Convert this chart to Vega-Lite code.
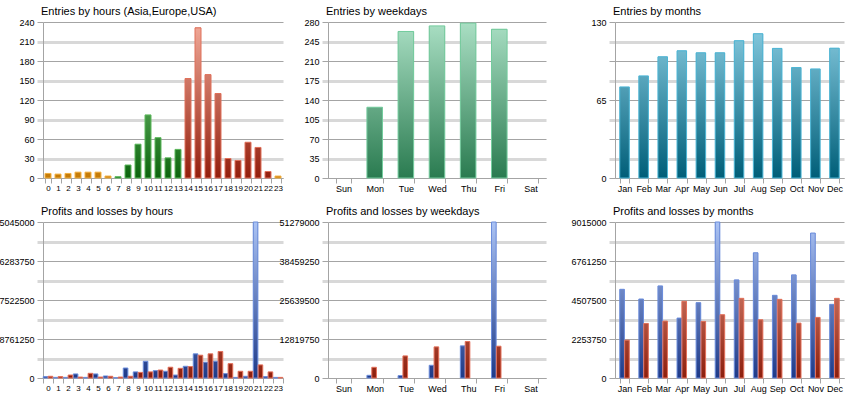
{
  "$schema": "https://vega.github.io/schema/vega-lite/v6.json",
  "autosize": {"type": "none"},
  "padding": {"left": 43, "top": 22, "right": 817, "bottom": 378},
  "background": "white",
  "bounds": "flush",
  "columns": 3,
  "spacing": {"row": 44, "column": 45},
  "resolve": {"scale": {"fill": "independent", "fillOpacity": "independent"}},
  "concat": [
    {
      "width": 240, "height": 156,
      "title": "Entries by hours (Asia,Europe,USA)",
      "data": {"values": [
        {"hour": 0, "entries": 7, "region": "Asia"},
        {"hour": 1, "entries": 6, "region": "Asia"},
        {"hour": 2, "entries": 7, "region": "Asia"},
        {"hour": 3, "entries": 9, "region": "Asia"},
        {"hour": 4, "entries": 9, "region": "Asia"},
        {"hour": 5, "entries": 9, "region": "Asia"},
        {"hour": 6, "entries": 3, "region": "Asia"},
        {"hour": 7, "entries": 2, "region": "Europe"},
        {"hour": 8, "entries": 20, "region": "Europe"},
        {"hour": 9, "entries": 52, "region": "Europe"},
        {"hour": 10, "entries": 97, "region": "Europe"},
        {"hour": 11, "entries": 62, "region": "Europe"},
        {"hour": 12, "entries": 31, "region": "Europe"},
        {"hour": 13, "entries": 44, "region": "Europe"},
        {"hour": 14, "entries": 153, "region": "USA"},
        {"hour": 15, "entries": 231, "region": "USA"},
        {"hour": 16, "entries": 159, "region": "USA"},
        {"hour": 17, "entries": 130, "region": "USA"},
        {"hour": 18, "entries": 30, "region": "USA"},
        {"hour": 19, "entries": 27, "region": "USA"},
        {"hour": 20, "entries": 55, "region": "USA"},
        {"hour": 21, "entries": 47, "region": "USA"},
        {"hour": 22, "entries": 10, "region": "USA"},
        {"hour": 23, "entries": 3, "region": "Asia"}
      ]},
      "encoding": {
        "x": {"field": "hour", "type": "ordinal", "scale": {"paddingInner": 0.4, "paddingOuter": 0.2}, "axis": {"title": null, "labelFontSize": 8}},
        "y": {"field": "entries", "type": "quantitative", "scale": {"domain": [0, 240], "nice": false},
          "axis": {"title": null, "grid": true, "values": [0, 30, 60, 90, 120, 150, 180, 210, 240],
            "gridColor": {"condition": {"test": "datum.value % 60 === 0", "value": "#a4a4a4"}, "value": "#d8d8d8"},
            "gridWidth": {"condition": {"test": "datum.value % 60 === 0", "value": 1}, "value": 3},
            "tickColor": {"condition": {"test": "datum.value % 60 === 0", "value": "#a4a4a4"}, "value": "#d8d8d8"},
            "tickWidth": {"condition": {"test": "datum.value % 60 === 0", "value": 1}, "value": 3}}}
      },
      "layer": [
        {"mark": {"type": "bar"}, "encoding": {"fill": {"field": "region", "type": "nominal", "scale": {"domain": ["Asia", "Europe", "USA"], "range": ["#c47a06", "#0b640d", "#931e0c"]}, "legend": null}}},
        {"transform": [{"filter": "datum.region === 'Asia'"}],
         "mark": {"type": "bar", "stroke": "#f3b040", "strokeWidth": 1, "fill": {"gradient": "linear", "x1": 0, "y1": 1, "x2": 0, "y2": 0, "stops": [{"offset": 0, "color": "rgba(255,211,138,0)"}, {"offset": 1, "color": "rgba(255,211,138,1)"}]}},
         "encoding": {"fillOpacity": {"field": "entries", "type": "quantitative", "scale": {"domain": [0, 240], "range": [0, 1]}, "legend": null}}},
        {"transform": [{"filter": "datum.region === 'Europe'"}],
         "mark": {"type": "bar", "stroke": "#5cb85c", "strokeWidth": 1, "fill": {"gradient": "linear", "x1": 0, "y1": 1, "x2": 0, "y2": 0, "stops": [{"offset": 0, "color": "rgba(158,229,154,0)"}, {"offset": 1, "color": "rgba(158,229,154,1)"}]}},
         "encoding": {"fillOpacity": {"field": "entries", "type": "quantitative", "scale": {"domain": [0, 240], "range": [0, 1]}, "legend": null}}},
        {"transform": [{"filter": "datum.region === 'USA'"}],
         "mark": {"type": "bar", "stroke": "#e0705a", "strokeWidth": 1, "fill": {"gradient": "linear", "x1": 0, "y1": 1, "x2": 0, "y2": 0, "stops": [{"offset": 0, "color": "rgba(242,171,154,0)"}, {"offset": 1, "color": "rgba(242,171,154,1)"}]}},
         "encoding": {"fillOpacity": {"field": "entries", "type": "quantitative", "scale": {"domain": [0, 240], "range": [0, 1]}, "legend": null}}}
      ]
    },
    {
      "width": 242, "height": 156,
      "title": "Entries by weekdays",
      "data": {"values": [
        {"day": "Mon", "entries": 127},
        {"day": "Tue", "entries": 263},
        {"day": "Wed", "entries": 273},
        {"day": "Thu", "entries": 278},
        {"day": "Fri", "entries": 267}
      ]},
      "encoding": {
        "x": {"field": "day", "type": "ordinal", "scale": {"domain": ["Sun", "Mon", "Tue", "Wed", "Thu", "Fri", "Sat"], "range": [0, 218], "paddingInner": 0.5, "paddingOuter": 0.25}, "axis": {"title": null}},
        "y": {"field": "entries", "type": "quantitative", "scale": {"domain": [0, 280], "nice": false},
          "axis": {"title": null, "grid": true, "values": [0, 35, 70, 105, 140, 175, 210, 245, 280],
            "gridColor": {"condition": {"test": "datum.value % 70 === 0", "value": "#a4a4a4"}, "value": "#d8d8d8"},
            "gridWidth": {"condition": {"test": "datum.value % 70 === 0", "value": 1}, "value": 3},
            "tickColor": {"condition": {"test": "datum.value % 70 === 0", "value": "#a4a4a4"}, "value": "#d8d8d8"},
            "tickWidth": {"condition": {"test": "datum.value % 70 === 0", "value": 1}, "value": 3}}}
      },
      "layer": [
        {"mark": {"type": "bar", "fill": "#2a7b50"}},
        {"mark": {"type": "bar", "stroke": "#74cc9e", "strokeWidth": 1, "fill": {"gradient": "linear", "x1": 0, "y1": 1, "x2": 0, "y2": 0, "stops": [{"offset": 0, "color": "rgba(170,223,196,0)"}, {"offset": 1, "color": "rgba(170,223,196,1)"}]}},
         "encoding": {"fillOpacity": {"field": "entries", "type": "quantitative", "scale": {"domain": [0, 280], "range": [0, 1]}, "legend": null}}}
      ]
    },
    {
      "width": 229, "height": 156,
      "title": "Entries by months",
      "data": {"values": [
        {"month": "Jan", "entries": 75.9},
        {"month": "Feb", "entries": 85.1},
        {"month": "Mar", "entries": 101},
        {"month": "Apr", "entries": 106},
        {"month": "May", "entries": 104.3},
        {"month": "Jun", "entries": 104.3},
        {"month": "Jul", "entries": 114.4},
        {"month": "Aug", "entries": 120.2},
        {"month": "Sep", "entries": 108},
        {"month": "Oct", "entries": 92},
        {"month": "Nov", "entries": 90.9},
        {"month": "Dec", "entries": 108.2}
      ]},
      "encoding": {
        "x": {"field": "month", "type": "ordinal", "scale": {"domain": ["Jan", "Feb", "Mar", "Apr", "May", "Jun", "Jul", "Aug", "Sep", "Oct", "Nov", "Dec"], "paddingInner": 0.5, "paddingOuter": 0.25}, "axis": {"title": null}},
        "y": {"field": "entries", "type": "quantitative", "scale": {"domain": [0, 130], "nice": false},
          "axis": {"title": null, "grid": true, "values": [0, 16.25, 32.5, 48.75, 65, 81.25, 97.5, 113.75, 130],
            "labelExpr": "datum.value % 65 === 0 ? datum.label : ''",
            "gridColor": {"condition": {"test": "datum.value % 32.5 === 0", "value": "#a4a4a4"}, "value": "#d8d8d8"},
            "gridWidth": {"condition": {"test": "datum.value % 32.5 === 0", "value": 1}, "value": 3},
            "tickColor": {"condition": {"test": "datum.value % 32.5 === 0", "value": "#a4a4a4"}, "value": "#d8d8d8"},
            "tickWidth": {"condition": {"test": "datum.value % 32.5 === 0", "value": 1}, "value": 3}}}
      },
      "layer": [
        {"mark": {"type": "bar", "fill": "#005e78"}},
        {"mark": {"type": "bar", "stroke": "#4cb6d6", "strokeWidth": 1, "fill": {"gradient": "linear", "x1": 0, "y1": 1, "x2": 0, "y2": 0, "stops": [{"offset": 0, "color": "rgba(138,205,226,0)"}, {"offset": 1, "color": "rgba(138,205,226,1)"}]}},
         "encoding": {"fillOpacity": {"field": "entries", "type": "quantitative", "scale": {"domain": [0, 130], "range": [0, 1]}, "legend": null}}}
      ]
    },
    {
      "width": 240, "height": 156,
      "title": "Profits and losses by hours",
      "data": {"values": [
        {"hour": 0, "series": "Profit", "amount": 315000}, {"hour": 0, "series": "Loss", "amount": 385000},
        {"hour": 1, "series": "Profit", "amount": 140000}, {"hour": 1, "series": "Loss", "amount": 315000},
        {"hour": 2, "series": "Profit", "amount": 140000}, {"hour": 2, "series": "Loss", "amount": 665000},
        {"hour": 3, "series": "Profit", "amount": 910000}, {"hour": 3, "series": "Loss", "amount": 210000},
        {"hour": 4, "series": "Profit", "amount": 140000}, {"hour": 4, "series": "Loss", "amount": 1050000},
        {"hour": 5, "series": "Profit", "amount": 910000}, {"hour": 5, "series": "Loss", "amount": 210000},
        {"hour": 6, "series": "Profit", "amount": 455000}, {"hour": 6, "series": "Loss", "amount": 385000},
        {"hour": 7, "series": "Profit", "amount": 70000}, {"hour": 7, "series": "Loss", "amount": 210000},
        {"hour": 8, "series": "Profit", "amount": 2240000}, {"hour": 8, "series": "Loss", "amount": 385000},
        {"hour": 9, "series": "Profit", "amount": 1370000}, {"hour": 9, "series": "Loss", "amount": 1260000},
        {"hour": 10, "series": "Profit", "amount": 3750000}, {"hour": 10, "series": "Loss", "amount": 1370000},
        {"hour": 11, "series": "Profit", "amount": 1650000}, {"hour": 11, "series": "Loss", "amount": 1790000},
        {"hour": 12, "series": "Profit", "amount": 1510000}, {"hour": 12, "series": "Loss", "amount": 2420000},
        {"hour": 13, "series": "Profit", "amount": 665000}, {"hour": 13, "series": "Loss", "amount": 2170000},
        {"hour": 14, "series": "Profit", "amount": 2630000}, {"hour": 14, "series": "Loss", "amount": 2560000},
        {"hour": 15, "series": "Profit", "amount": 5430000}, {"hour": 15, "series": "Loss", "amount": 5120000},
        {"hour": 16, "series": "Profit", "amount": 3540000}, {"hour": 16, "series": "Loss", "amount": 5430000},
        {"hour": 17, "series": "Profit", "amount": 3750000}, {"hour": 17, "series": "Loss", "amount": 5960000},
        {"hour": 18, "series": "Profit", "amount": 980000}, {"hour": 18, "series": "Loss", "amount": 3220000},
        {"hour": 19, "series": "Profit", "amount": 140000}, {"hour": 19, "series": "Loss", "amount": 1510000},
        {"hour": 20, "series": "Profit", "amount": 385000}, {"hour": 20, "series": "Loss", "amount": 1510000},
        {"hour": 21, "series": "Profit", "amount": 35045000}, {"hour": 21, "series": "Loss", "amount": 2940000},
        {"hour": 22, "series": "Profit", "amount": 315000}, {"hour": 22, "series": "Loss", "amount": 1370000},
        {"hour": 23, "series": "Profit", "amount": 140000}, {"hour": 23, "series": "Loss", "amount": 140000}
      ]},
      "encoding": {
        "x": {"field": "hour", "type": "ordinal", "scale": {"paddingInner": 0.05, "paddingOuter": 0.025}, "axis": {"title": null, "labelFontSize": 8}},
        "xOffset": {"field": "series", "type": "nominal", "scale": {"domain": ["Profit", "Loss"], "paddingInner": 0.05}},
        "y": {"field": "amount", "type": "quantitative", "scale": {"domain": [0, 35045000], "nice": false},
          "axis": {"title": null, "grid": true, "values": [0, 4380625, 8761250, 13141875, 17522500, 21903125, 26283750, 30664375, 35045000],
            "labelExpr": "datum.value % 8761250 === 0 ? datum.label : ''",
            "gridColor": {"condition": {"test": "datum.value % 8761250 === 0", "value": "#a4a4a4"}, "value": "#d8d8d8"},
            "gridWidth": {"condition": {"test": "datum.value % 8761250 === 0", "value": 1}, "value": 3},
            "tickColor": {"condition": {"test": "datum.value % 8761250 === 0", "value": "#a4a4a4"}, "value": "#d8d8d8"},
            "tickWidth": {"condition": {"test": "datum.value % 8761250 === 0", "value": 1}, "value": 3}}}
      },
      "layer": [
        {"mark": {"type": "bar"}, "encoding": {"fill": {"field": "series", "type": "nominal", "scale": {"domain": ["Profit", "Loss"], "range": ["#1e3a88", "#8c1e0c"]}, "legend": null}}},
        {"transform": [{"filter": "datum.series === 'Profit'"}],
         "mark": {"type": "bar", "stroke": "#6b8ddc", "strokeWidth": 1, "fill": {"gradient": "linear", "x1": 0, "y1": 1, "x2": 0, "y2": 0, "stops": [{"offset": 0, "color": "rgba(171,195,244,0)"}, {"offset": 1, "color": "rgba(171,195,244,1)"}]}},
         "encoding": {"fillOpacity": {"field": "amount", "type": "quantitative", "scale": {"domain": [0, 35045000], "range": [0, 1]}, "legend": null}}},
        {"transform": [{"filter": "datum.series === 'Loss'"}],
         "mark": {"type": "bar", "stroke": "#e4705a", "strokeWidth": 1, "fill": {"gradient": "linear", "x1": 0, "y1": 1, "x2": 0, "y2": 0, "stops": [{"offset": 0, "color": "rgba(245,173,154,0)"}, {"offset": 1, "color": "rgba(245,173,154,1)"}]}},
         "encoding": {"fillOpacity": {"field": "amount", "type": "quantitative", "scale": {"domain": [0, 35045000], "range": [0, 1]}, "legend": null}}}
      ]
    },
    {
      "width": 242, "height": 156,
      "title": "Profits and losses by weekdays",
      "data": {"values": [
        {"day": "Mon", "series": "Profit", "amount": 880000}, {"day": "Mon", "series": "Loss", "amount": 3520000},
        {"day": "Tue", "series": "Profit", "amount": 770000}, {"day": "Tue", "series": "Loss", "amount": 7260000},
        {"day": "Wed", "series": "Profit", "amount": 4180000}, {"day": "Wed", "series": "Loss", "amount": 10230000},
        {"day": "Thu", "series": "Profit", "amount": 10560000}, {"day": "Thu", "series": "Loss", "amount": 11990000},
        {"day": "Fri", "series": "Profit", "amount": 51279000}, {"day": "Fri", "series": "Loss", "amount": 10450000}
      ]},
      "encoding": {
        "x": {"field": "day", "type": "ordinal", "scale": {"domain": ["Sun", "Mon", "Tue", "Wed", "Thu", "Fri", "Sat"], "range": [0, 218], "paddingInner": 0.5, "paddingOuter": 0.25}, "axis": {"title": null}},
        "xOffset": {"field": "series", "type": "nominal", "scale": {"domain": ["Profit", "Loss"], "paddingInner": 0.07}},
        "y": {"field": "amount", "type": "quantitative", "scale": {"domain": [0, 51279000], "nice": false},
          "axis": {"title": null, "grid": true, "values": [0, 6409875, 12819750, 19229625, 25639500, 32049375, 38459250, 44869125, 51279000],
            "labelExpr": "datum.value % 12819750 === 0 ? datum.label : ''",
            "gridColor": {"condition": {"test": "datum.value % 12819750 === 0", "value": "#a4a4a4"}, "value": "#d8d8d8"},
            "gridWidth": {"condition": {"test": "datum.value % 12819750 === 0", "value": 1}, "value": 3},
            "tickColor": {"condition": {"test": "datum.value % 12819750 === 0", "value": "#a4a4a4"}, "value": "#d8d8d8"},
            "tickWidth": {"condition": {"test": "datum.value % 12819750 === 0", "value": 1}, "value": 3}}}
      },
      "layer": [
        {"mark": {"type": "bar"}, "encoding": {"fill": {"field": "series", "type": "nominal", "scale": {"domain": ["Profit", "Loss"], "range": ["#1e3a88", "#8c1e0c"]}, "legend": null}}},
        {"transform": [{"filter": "datum.series === 'Profit'"}],
         "mark": {"type": "bar", "stroke": "#6b8ddc", "strokeWidth": 1, "fill": {"gradient": "linear", "x1": 0, "y1": 1, "x2": 0, "y2": 0, "stops": [{"offset": 0, "color": "rgba(171,195,244,0)"}, {"offset": 1, "color": "rgba(171,195,244,1)"}]}},
         "encoding": {"fillOpacity": {"field": "amount", "type": "quantitative", "scale": {"domain": [0, 51279000], "range": [0, 1]}, "legend": null}}},
        {"transform": [{"filter": "datum.series === 'Loss'"}],
         "mark": {"type": "bar", "stroke": "#e4705a", "strokeWidth": 1, "fill": {"gradient": "linear", "x1": 0, "y1": 1, "x2": 0, "y2": 0, "stops": [{"offset": 0, "color": "rgba(245,173,154,0)"}, {"offset": 1, "color": "rgba(245,173,154,1)"}]}},
         "encoding": {"fillOpacity": {"field": "amount", "type": "quantitative", "scale": {"domain": [0, 51279000], "range": [0, 1]}, "legend": null}}}
      ]
    },
    {
      "width": 229, "height": 156,
      "title": "Profits and losses by months",
      "data": {"values": [
        {"month": "Jan", "series": "Profit", "amount": 5126000}, {"month": "Jan", "series": "Loss", "amount": 2186000},
        {"month": "Feb", "series": "Profit", "amount": 4565000}, {"month": "Feb", "series": "Loss", "amount": 3153000},
        {"month": "Mar", "series": "Profit", "amount": 5320000}, {"month": "Mar", "series": "Loss", "amount": 3289000},
        {"month": "Apr", "series": "Profit", "amount": 3463000}, {"month": "Apr", "series": "Loss", "amount": 4430000},
        {"month": "May", "series": "Profit", "amount": 4353000}, {"month": "May", "series": "Loss", "amount": 3270000},
        {"month": "Jun", "series": "Profit", "amount": 9015000}, {"month": "Jun", "series": "Loss", "amount": 3656000},
        {"month": "Jul", "series": "Profit", "amount": 5669000}, {"month": "Jul", "series": "Loss", "amount": 4604000},
        {"month": "Aug", "series": "Profit", "amount": 7235000}, {"month": "Aug", "series": "Loss", "amount": 3366000},
        {"month": "Sep", "series": "Profit", "amount": 4778000}, {"month": "Sep", "series": "Loss", "amount": 4546000},
        {"month": "Oct", "series": "Profit", "amount": 5958000}, {"month": "Oct", "series": "Loss", "amount": 3172000},
        {"month": "Nov", "series": "Profit", "amount": 8376000}, {"month": "Nov", "series": "Loss", "amount": 3501000},
        {"month": "Dec", "series": "Profit", "amount": 4256000}, {"month": "Dec", "series": "Loss", "amount": 4604000}
      ]},
      "encoding": {
        "x": {"field": "month", "type": "ordinal", "scale": {"domain": ["Jan", "Feb", "Mar", "Apr", "May", "Jun", "Jul", "Aug", "Sep", "Oct", "Nov", "Dec"], "paddingInner": 0.5, "paddingOuter": 0.25}, "axis": {"title": null}},
        "xOffset": {"field": "series", "type": "nominal", "scale": {"domain": ["Profit", "Loss"], "paddingInner": 0.05}},
        "y": {"field": "amount", "type": "quantitative", "scale": {"domain": [0, 9015000], "nice": false},
          "axis": {"title": null, "grid": true, "values": [0, 1126875, 2253750, 3380625, 4507500, 5634375, 6761250, 7888125, 9015000],
            "labelExpr": "datum.value % 2253750 === 0 ? datum.label : ''",
            "gridColor": {"condition": {"test": "datum.value % 2253750 === 0", "value": "#a4a4a4"}, "value": "#d8d8d8"},
            "gridWidth": {"condition": {"test": "datum.value % 2253750 === 0", "value": 1}, "value": 3},
            "tickColor": {"condition": {"test": "datum.value % 2253750 === 0", "value": "#a4a4a4"}, "value": "#d8d8d8"},
            "tickWidth": {"condition": {"test": "datum.value % 2253750 === 0", "value": 1}, "value": 3}}}
      },
      "layer": [
        {"mark": {"type": "bar"}, "encoding": {"fill": {"field": "series", "type": "nominal", "scale": {"domain": ["Profit", "Loss"], "range": ["#1e3a88", "#8c1e0c"]}, "legend": null}}},
        {"transform": [{"filter": "datum.series === 'Profit'"}],
         "mark": {"type": "bar", "stroke": "#6b8ddc", "strokeWidth": 1, "fill": {"gradient": "linear", "x1": 0, "y1": 1, "x2": 0, "y2": 0, "stops": [{"offset": 0, "color": "rgba(171,195,244,0)"}, {"offset": 1, "color": "rgba(171,195,244,1)"}]}},
         "encoding": {"fillOpacity": {"field": "amount", "type": "quantitative", "scale": {"domain": [0, 9015000], "range": [0, 1]}, "legend": null}}},
        {"transform": [{"filter": "datum.series === 'Loss'"}],
         "mark": {"type": "bar", "stroke": "#e4705a", "strokeWidth": 1, "fill": {"gradient": "linear", "x1": 0, "y1": 1, "x2": 0, "y2": 0, "stops": [{"offset": 0, "color": "rgba(245,173,154,0)"}, {"offset": 1, "color": "rgba(245,173,154,1)"}]}},
         "encoding": {"fillOpacity": {"field": "amount", "type": "quantitative", "scale": {"domain": [0, 9015000], "range": [0, 1]}, "legend": null}}}
      ]
    }
  ],
  "config": {
    "font": "Liberation Sans",
    "view": {"stroke": null},
    "axis": {"labelFontSize": 9, "labelColor": "#000000", "domainColor": "#a4a4a4", "tickColor": "#a4a4a4"},
    "axisX": {"grid": false, "tickBand": "extent", "tickSize": 5, "labelAngle": 0, "labelPadding": 1, "labelOverlap": false},
    "axisY": {"tickSize": 6, "labelPadding": 3, "format": "d"},
    "title": {"anchor": "start", "fontSize": 11, "fontWeight": "normal", "color": "#000000", "offset": 1, "frame": "group", "dx": -2}
  }
}
